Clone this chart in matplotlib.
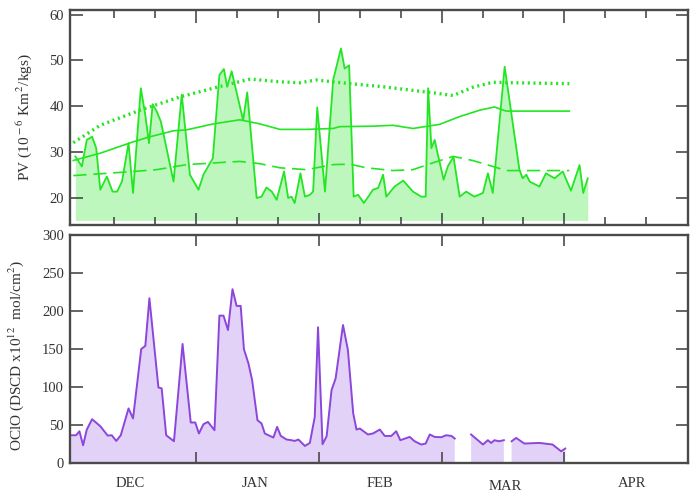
import numpy as np
import matplotlib
matplotlib.use("Agg")
import matplotlib.pyplot as plt

# x axis: days since 1 Dec (equal 30-day months as drawn)
pv_day = [0.5, 2.1, 3.3, 4.6, 5.6, 6.6, 8.2, 9.6, 10.7, 11.9, 13.5, 14.6, 16.5, 17.6, 18.5,
          19.4, 20.4, 21.4, 24.5, 26.5, 28.5, 30.6, 31.8, 34.1, 35.7, 36.8, 37.6, 38.7, 41.5,
          42.5, 44.8, 46.0, 47.2, 48.5, 49.7, 51.5, 52.5, 53.3, 54.1, 55.5, 56.6, 57.8, 58.6,
          59.6, 61.5, 63.5, 65.4, 66.3, 67.4, 68.5, 69.6, 71.0, 72.4, 73.2, 74.5, 75.7, 76.5,
          78.5, 80.6, 83.0, 85.0, 86.1, 86.7, 87.5, 88.3, 89.1, 90.5, 91.5, 92.9, 94.4, 96.0,
          98.0, 100.1, 101.3, 102.5, 105.4, 109.0, 109.8, 110.7, 111.5, 113.9, 115.5, 117.6,
          119.6, 121.6, 123.7, 124.6, 125.7]
pv_val = [29.0, 26.8, 32.6, 33.3, 30.8, 21.7, 24.6, 21.3, 21.3, 23.5, 31.9, 21.0, 43.9, 38.0, 31.9,
          40.4, 38.8, 36.6, 23.5, 42.5, 25.0, 21.7, 25.0, 28.6, 46.8, 48.1, 44.2, 47.6, 36.9,
          43.0, 19.9, 20.2, 22.2, 21.3, 19.5, 25.7, 19.9, 20.2, 18.8, 25.3, 20.2, 20.6, 21.3,
          39.7, 21.3, 45.7, 52.6, 48.2, 48.9, 20.2, 20.6, 18.8, 20.6, 21.7, 22.1, 25.0, 20.2,
          22.4, 23.7, 21.3, 20.2, 20.2, 43.9, 30.8, 32.6, 29.3, 23.9, 26.8, 28.9, 20.2, 21.3,
          20.2, 21.0, 25.3, 21.0, 48.6, 26.1, 24.2, 25.0, 23.5, 22.4, 25.3, 24.2,
          25.7, 21.5, 27.1, 21.0, 24.2]

upper_day = [0, 6.6, 16.3, 26.1, 35.0, 43.2, 50.5, 55.4, 59.4, 67.6, 74.9, 81.4, 87.9, 92.8,
             97.6, 102.5, 107.4, 121.2]
upper_val = [32.0, 35.8, 39.1, 42.0, 44.1, 45.9, 45.3, 45.1, 45.7, 44.9, 44.3, 43.6, 42.9, 42.3,
             44.1, 45.2, 45.1, 44.9]

mid_day = [0, 6.6, 14.7, 18.8, 24.5, 27.7, 34.2, 40.7, 45.6, 50.5, 57.0, 63.5, 65.1, 73.2,
           78.1, 83.0, 89.5, 94.4, 99.3, 102.9, 105.8, 121.2]
mid_val = [28.1, 29.7, 32.2, 33.3, 34.6, 34.8, 36.1, 37.0, 36.1, 34.9, 34.9, 35.1, 35.5, 35.6,
           35.8, 35.1, 36.0, 37.7, 39.1, 39.8, 38.9, 38.9]

low_day = [0, 6.6, 14.7, 20.4, 27.7, 35.0, 40.7, 45.6, 50.5, 57.0, 63.5, 67.6, 71.6, 78.1,
           83.0, 87.9, 92.8, 97.6, 102.5, 105.8, 121.2]
low_val = [24.8, 25.2, 25.7, 26.1, 27.2, 27.6, 27.9, 27.4, 26.5, 26.1, 27.2, 27.3, 26.5, 25.9,
           26.1, 27.6, 29.0, 28.1, 26.8, 25.9, 25.9]

oclo_day = [-0.5, 0.7, 1.5, 2.4, 3.3, 4.6, 6.6, 8.4, 9.4, 10.5, 11.6, 13.5, 14.6, 16.6, 17.6,
            18.6, 20.8, 21.6, 22.7, 24.6, 26.7, 28.7, 29.8, 30.7, 31.8, 32.9, 34.5, 35.7, 36.7,
            37.8, 38.9, 39.9, 40.9, 41.7, 42.8, 43.7, 45.0, 46.0, 46.8, 48.9, 49.8, 50.7, 52.1,
            53.3, 54.1, 55.0, 56.6, 57.8, 59.0, 59.8, 60.9, 61.9, 63.1, 64.1, 65.9, 67.1, 68.4,
            69.2, 70.0, 72.0, 73.2, 74.9, 76.1, 77.7, 78.9, 79.9, 82.2, 83.4, 85.0, 86.1, 87.1,
            88.3, 89.9, 91.1, 92.4, 93.2, 95.0,
            97.2, 100.1, 101.3, 102.1, 102.9, 104.0, 105.2, 106.0,
            107.1, 108.2, 110.2, 113.9, 117.1, 119.2, 120.2]
oclo_val = [36.5, 36.5, 41.8, 23.3, 44.0, 57.6, 48.4, 36.1, 36.5, 29.0, 36.5, 71.8, 58.6, 150.0, 154.0,
            216.8, 99.4, 98.1, 36.5, 28.6, 156.6, 53.3, 53.3, 38.8, 51.0, 54.1, 43.1, 193.9, 193.9,
            175.0, 228.7, 206.7, 206.7, 149.6, 131.0, 109.0, 56.3, 52.0, 38.8, 33.5, 47.5, 35.6, 30.9,
            30.0, 29.0, 30.9, 22.4, 26.4, 60.7, 178.6, 24.7, 35.2, 95.9, 111.3, 181.6, 148.7, 65.2,
            44.0, 45.4, 37.5, 38.8, 44.0, 35.6, 35.6, 41.8, 30.0, 34.3, 28.6, 24.3, 25.6, 37.5,
            34.3, 33.9, 36.5, 35.6, 32.2, np.nan,
            37.5, 24.3, 30.0, 26.4, 30.0, 28.6, 30.0, np.nan,
            28.6, 33.0, 25.6, 26.4, 24.3, 15.4, 19.0]

months = ["DEC", "JAN", "FEB", "MAR", "APR"]
month_pos = [13.9, 44.4, 74.9, 105.6, 136.6]

plt.rcParams["font.family"] = ["Liberation Serif", "DejaVu Serif"]
plt.rcParams["font.size"] = 11
plt.rcParams["mathtext.fontset"] = "stix"

fig = plt.figure(figsize=(6.98, 4.98), dpi=100)
ax1 = fig.add_axes([0.1003, 0.5482, 0.8854, 0.4317])
ax2 = fig.add_axes([0.1003, 0.0703, 0.8854, 0.4578])

spine_c = "#4a4a4a"
text_c = "#333333"
pv_c = "#22e622"

# PV panel
ax1.fill_between(pv_day, 15, pv_val, color="#bdf7bd", lw=0)
ax1.plot(pv_day, pv_val, color=pv_c, lw=1.3)
ax1.plot(upper_day, upper_val, color=pv_c, lw=2.4, linestyle=(0, (0.6, 1.1)))
ax1.plot(mid_day, mid_val, color=pv_c, lw=1.2)
ax1.plot(low_day, low_val, color=pv_c, lw=1.2, linestyle=(0, (8, 4)))
ax1.set_xlim(-0.8, 150.2)
ax1.set_ylim(14, 61)
ax1.set_yticks([20, 30, 40, 50, 60])
ax1.set_xticks(np.arange(30, 150, 30))
ax1.set_xticks(np.arange(10, 150, 10), minor=True)
ax1.set_xticklabels([])
ax1.tick_params(axis="x", which="both", direction="in", top=True, bottom=True, colors=spine_c)
ax1.tick_params(axis="x", which="major", length=9, width=1.2)
ax1.tick_params(axis="x", which="minor", length=6, width=1.2)
ax1.tick_params(axis="y", direction="in", left=True, right=True, length=9, width=1.2,
                colors=spine_c, labelcolor=text_c, pad=4.5, labelsize=10.5)
ax1.set_ylabel("PV (10$^{\\,-6}$ Km$^{\\,2}$/kgs)", color=text_c, fontsize=11)
ax1.yaxis.set_label_coords(-0.058, 0.5)

# OClO panel
ax2.fill_between(oclo_day, 0, oclo_val, color="#e2d2f7", lw=0)
ax2.plot(oclo_day, oclo_val, color="#8c46dc", lw=1.4)
ax2.set_xlim(-0.8, 150.2)
ax2.set_ylim(0, 300)
ax2.set_yticks(np.arange(0, 301, 50))
ax2.set_xticks(np.arange(30, 150, 30))
ax2.set_xticklabels([])
ax2.tick_params(axis="x", direction="in", top=True, bottom=True, length=8, width=1.2, colors=spine_c)
ax2.tick_params(axis="y", direction="in", left=True, right=True, length=9, width=1.2,
                colors=spine_c, labelcolor=text_c, pad=4.5, labelsize=10.5)
ax2.set_ylabel("OClO (DSCD x10$^{12}$  mol/cm$^{2}$)", color=text_c, fontsize=11)
ax2.yaxis.set_label_coords(-0.072, 0.47)
for m, xp in zip(months, month_pos):
    dy = -0.105 if m == "MAR" else -0.092
    ax2.text(xp, dy, m, transform=ax2.get_xaxis_transform(), ha="center", va="center",
             color=text_c, fontsize=10.5)

for ax in (ax1, ax2):
    for s in ax.spines.values():
        s.set_color(spine_c)
        s.set_linewidth(1.7)

fig.savefig("out.png", dpi=100)
